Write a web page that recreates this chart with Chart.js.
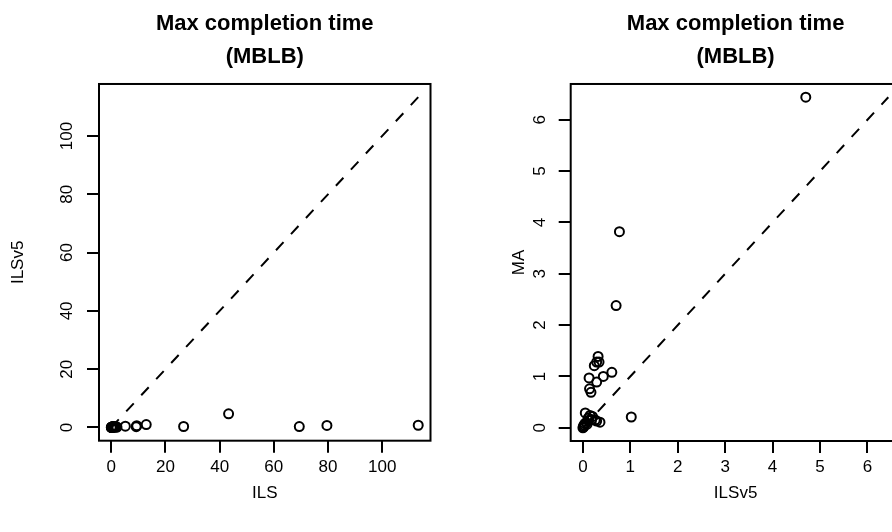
<!DOCTYPE html>
<html>
<head>
<meta charset="utf-8">
<script src="https://cdn.jsdelivr.net/npm/chart.js@4.4.0/dist/chart.umd.min.js"></script>
<style>
  html, body { margin: 0; padding: 0; background: #fff; overflow: hidden; width: 892px; height: 532px; }
  .panel { position: absolute; top: 0; }
  #left { left: 0; }
  #right { left: 501px; }
</style>
</head>
<body>
<canvas id="left" class="panel" width="460" height="532"></canvas>
<canvas id="right" class="panel" width="429" height="532"></canvas>
<script>
const titleLines = ['Max completion time', '(MBLB)'];

// one entry per instance, same order in every array
const ils   = [43.3, 113.3, 79.6, 12.9, 69.4, 9.2, 0.9, 26.7, 9.4, 5.2, 2.1, 1.5, 0.8, 1.0, 0.3,
               0.5, 0.2, 1.2, 0.6, 0.4, 0.1, 0.05, 0.3, 0.7, 0.2, 0.9, 0.1, 1.8, 0.0, 0.4];
const ilsv5 = [4.70, 0.77, 0.70, 1.02, 0.32, 0.29, 0.24, 0.34, 0.61, 0.43, 0.13, 0.29, 0.14, 0.17, 0.05,
               0.11, 0.18, 0.29, 0.36, 0.26, 0.01, 0.00, 0.07, 0.12, 0.03, 0.20, 0.02, 0.09, 0.04, 0.15];
const ma    = [6.44, 3.82, 2.38, 0.21, 1.39, 1.28, 1.21, 1.28, 1.08, 1.00, 0.97, 0.89, 0.76, 0.69, 0.29,
               0.19, 0.16, 0.13, 0.11, 0.15, 0.03, 0.00, 0.10, 0.14, 0.05, 0.22, 0.02, 0.07, 0.08, 0.24];

const ticksLeft = [0, 20, 40, 60, 80, 100];
const ticksRight = [0, 1, 2, 3, 4, 5, 6];

const family = "'Liberation Sans', Arial, Helvetica, sans-serif";
const tickFont = { family, size: 17, lineHeight: 1.2 };
const labelFont = { family, size: 17, lineHeight: 1.2 };

// R style full box round the plot region
const boxPlugin = {
  id: 'box',
  afterDraw(chart) {
    const { ctx, chartArea: a } = chart;
    ctx.save();
    ctx.strokeStyle = '#000';
    ctx.lineWidth = 2;
    ctx.strokeRect(a.left, a.top, a.right - a.left, a.bottom - a.top);
    ctx.restore();
  }
};

function makePanel(id, xs, ys, xLabel, yLabel, ticks, yAxisWidth, yTickPad, xAxisHeight) {
  const hi = Math.max(...xs, ...ys);
  const lo = Math.min(...xs, ...ys);
  const ext = (hi - lo) * 0.04;
  const points = xs.map((x, i) => ({ x, y: ys[i] }));

  const grid = {
    drawOnChartArea: false, drawTicks: true, tickLength: 12,
    color: '#000', lineWidth: 2, tickColor: '#000', tickWidth: 2
  };

  return new Chart(document.getElementById(id), {
    type: 'scatter',
    data: {
      datasets: [
        {
          data: points,
          pointStyle: 'circle',
          pointRadius: 4.5,
          pointBorderWidth: 2,
          pointBorderColor: '#000',
          pointBackgroundColor: 'rgba(0,0,0,0)'
        },
        {
          data: [{ x: 0, y: 0 }, { x: hi, y: hi }],
          showLine: true,
          borderColor: '#000',
          borderWidth: 2,
          borderDash: [11, 11],
          pointRadius: 0
        }
      ]
    },
    options: {
      responsive: false,
      animation: false,
      layout: { padding: { left: 0, right: 29.5, top: 0, bottom: 0 } },
      scales: {
        x: {
          type: 'linear',
          position: 'bottom',
          min: lo - ext,
          max: hi + ext,
          afterBuildTicks: s => { s.ticks = ticks.map(v => ({ value: v })); },
          afterFit: s => { s.height = xAxisHeight; },
          ticks: { autoSkip: false, minRotation: 0, maxRotation: 0, padding: 4, color: '#000', font: tickFont },
          grid,
          border: { display: false },
          title: { display: true, text: xLabel, color: '#000', font: labelFont, padding: { top: 0, bottom: 28 } }
        },
        y: {
          type: 'linear',
          position: 'left',
          min: lo - ext,
          max: hi + ext,
          afterBuildTicks: s => { s.ticks = ticks.map(v => ({ value: v })); },
          afterFit: s => { s.width = yAxisWidth; },
          ticks: {
            autoSkip: false, minRotation: 90, maxRotation: 90, crossAlign: 'center',
            padding: yTickPad, color: '#000', font: tickFont
          },
          grid,
          border: { display: false },
          title: { display: true, text: yLabel, color: '#000', font: labelFont, padding: { top: 8, bottom: 0 } }
        }
      },
      plugins: {
        legend: { display: false },
        tooltip: { enabled: false },
        title: {
          display: true,
          fullSize: false,
          text: titleLines,
          color: '#000',
          font: { family, size: 22, weight: 'bold', lineHeight: 1.47 },
          padding: { top: 8, bottom: 11.3 }
        }
      }
    },
    plugins: [boxPlugin]
  });
}

makePanel('left', ils, ilsv5, 'ILS', 'ILSv5', ticksLeft, 99, 5.8, 91.3);
makePanel('right', ilsv5, ma, 'ILSv5', 'MA', ticksRight, 69.7, 14, 91);
</script>
</body>
</html>
